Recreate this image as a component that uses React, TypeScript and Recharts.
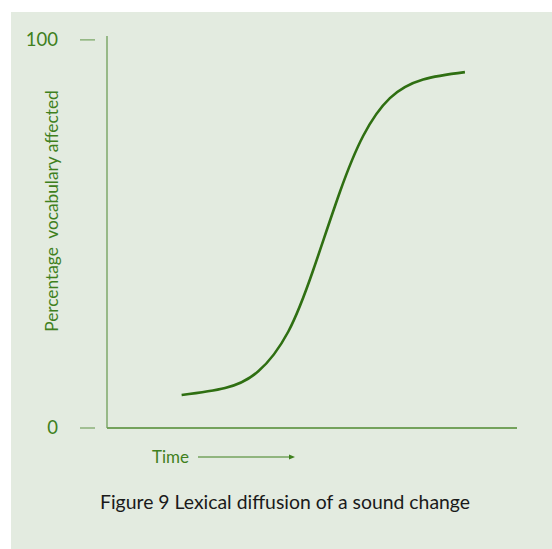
import React from "react";
import { LineChart, Line, XAxis, YAxis } from "recharts";

// time (arbitrary 0-100 scale) and % of vocabulary affected
const timePoints = [18.2, 28.8, 36.9, 44.2, 50.3, 56.8, 62.5, 69.0, 77.1, 87.3];
const percentAffected = [8.5, 10.3, 14.6, 24.8, 40.7, 60.8, 75.3, 85.0, 89.8, 91.7];
const yTicks = [0, 100];

const yLabel = "Percentage\u00a0\u00a0vocabulary affected";
const caption = "Figure 9 Lexical diffusion of a sound change";

const data = timePoints.map((t, i) => ({ t, pct: percentAffected[i] }));

const green = "#3f801d";
const font = "Lato, 'Open Sans', sans-serif";

const YTick = (props: any) => {
  const { x, y, payload } = props;
  return (
    <g>
      <line x1={x - 27} x2={x - 12} y1={y} y2={y} stroke="#7ea86a" strokeWidth={1.3} />
      <text x={x - 49} y={y} dy="0.35em" textAnchor="end" fill={green} fontSize={18.5} fontFamily={font}>
        {payload.value}
      </text>
    </g>
  );
};

export default function App() {
  return (
    <div style={{ position: "absolute", left: 0, top: 0, width: 552, height: 549 }}>
      <div style={{ position: "absolute", left: 11, top: 12, width: 541, height: 537, background: "#e3ebe0" }} />
      <div style={{ position: "absolute", left: 0, top: 0 }}>
        <LineChart width={552} height={549} data={data} margin={{ top: 36, right: 35, left: 0, bottom: 91 }}>
          <XAxis
            dataKey="t"
            type="number"
            domain={[0, 100]}
            tick={false}
            tickLine={false}
            height={30}
            axisLine={{ stroke: "#4f8a30", strokeWidth: 1.5 }}
          />
          <YAxis
            type="number"
            domain={[0, 101]}
            ticks={yTicks}
            width={107}
            tickSize={0}
            tickMargin={0}
            tickLine={false}
            tick={<YTick />}
            axisLine={{ stroke: "#6f9e58", strokeWidth: 1.3 }}
            label={{
              content: () => (
                <text
                  x={0}
                  y={0}
                  transform="translate(58 211) rotate(-90)"
                  textAnchor="middle"
                  fill={green}
                  fontSize={17.3}
                  fontFamily={font}
                >
                  {yLabel}
                </text>
              ),
            }}
          />
          <Line
            type="natural"
            dataKey="pct"
            stroke="#2f6f12"
            strokeWidth={2.6}
            dot={false}
            isAnimationActive={false}
          />
        </LineChart>
      </div>
      <svg style={{ position: "absolute", left: 0, top: 0 }} width={552} height={549}>
        <text x={152} y={457} dy="0.35em" fill={green} fontSize={17} fontFamily={font}>
          Time
        </text>
        <line x1={198} x2={290} y1={457} y2={457} stroke={green} strokeWidth={1.2} />
        <path d="M289,454.5 L295,457 L289,459.5 Z" fill={green} />
        <text x={100} y={509} fill="#1a1a1a" fontSize={19.4} fontFamily={font}>
          {caption}
        </text>
      </svg>
    </div>
  );
}
